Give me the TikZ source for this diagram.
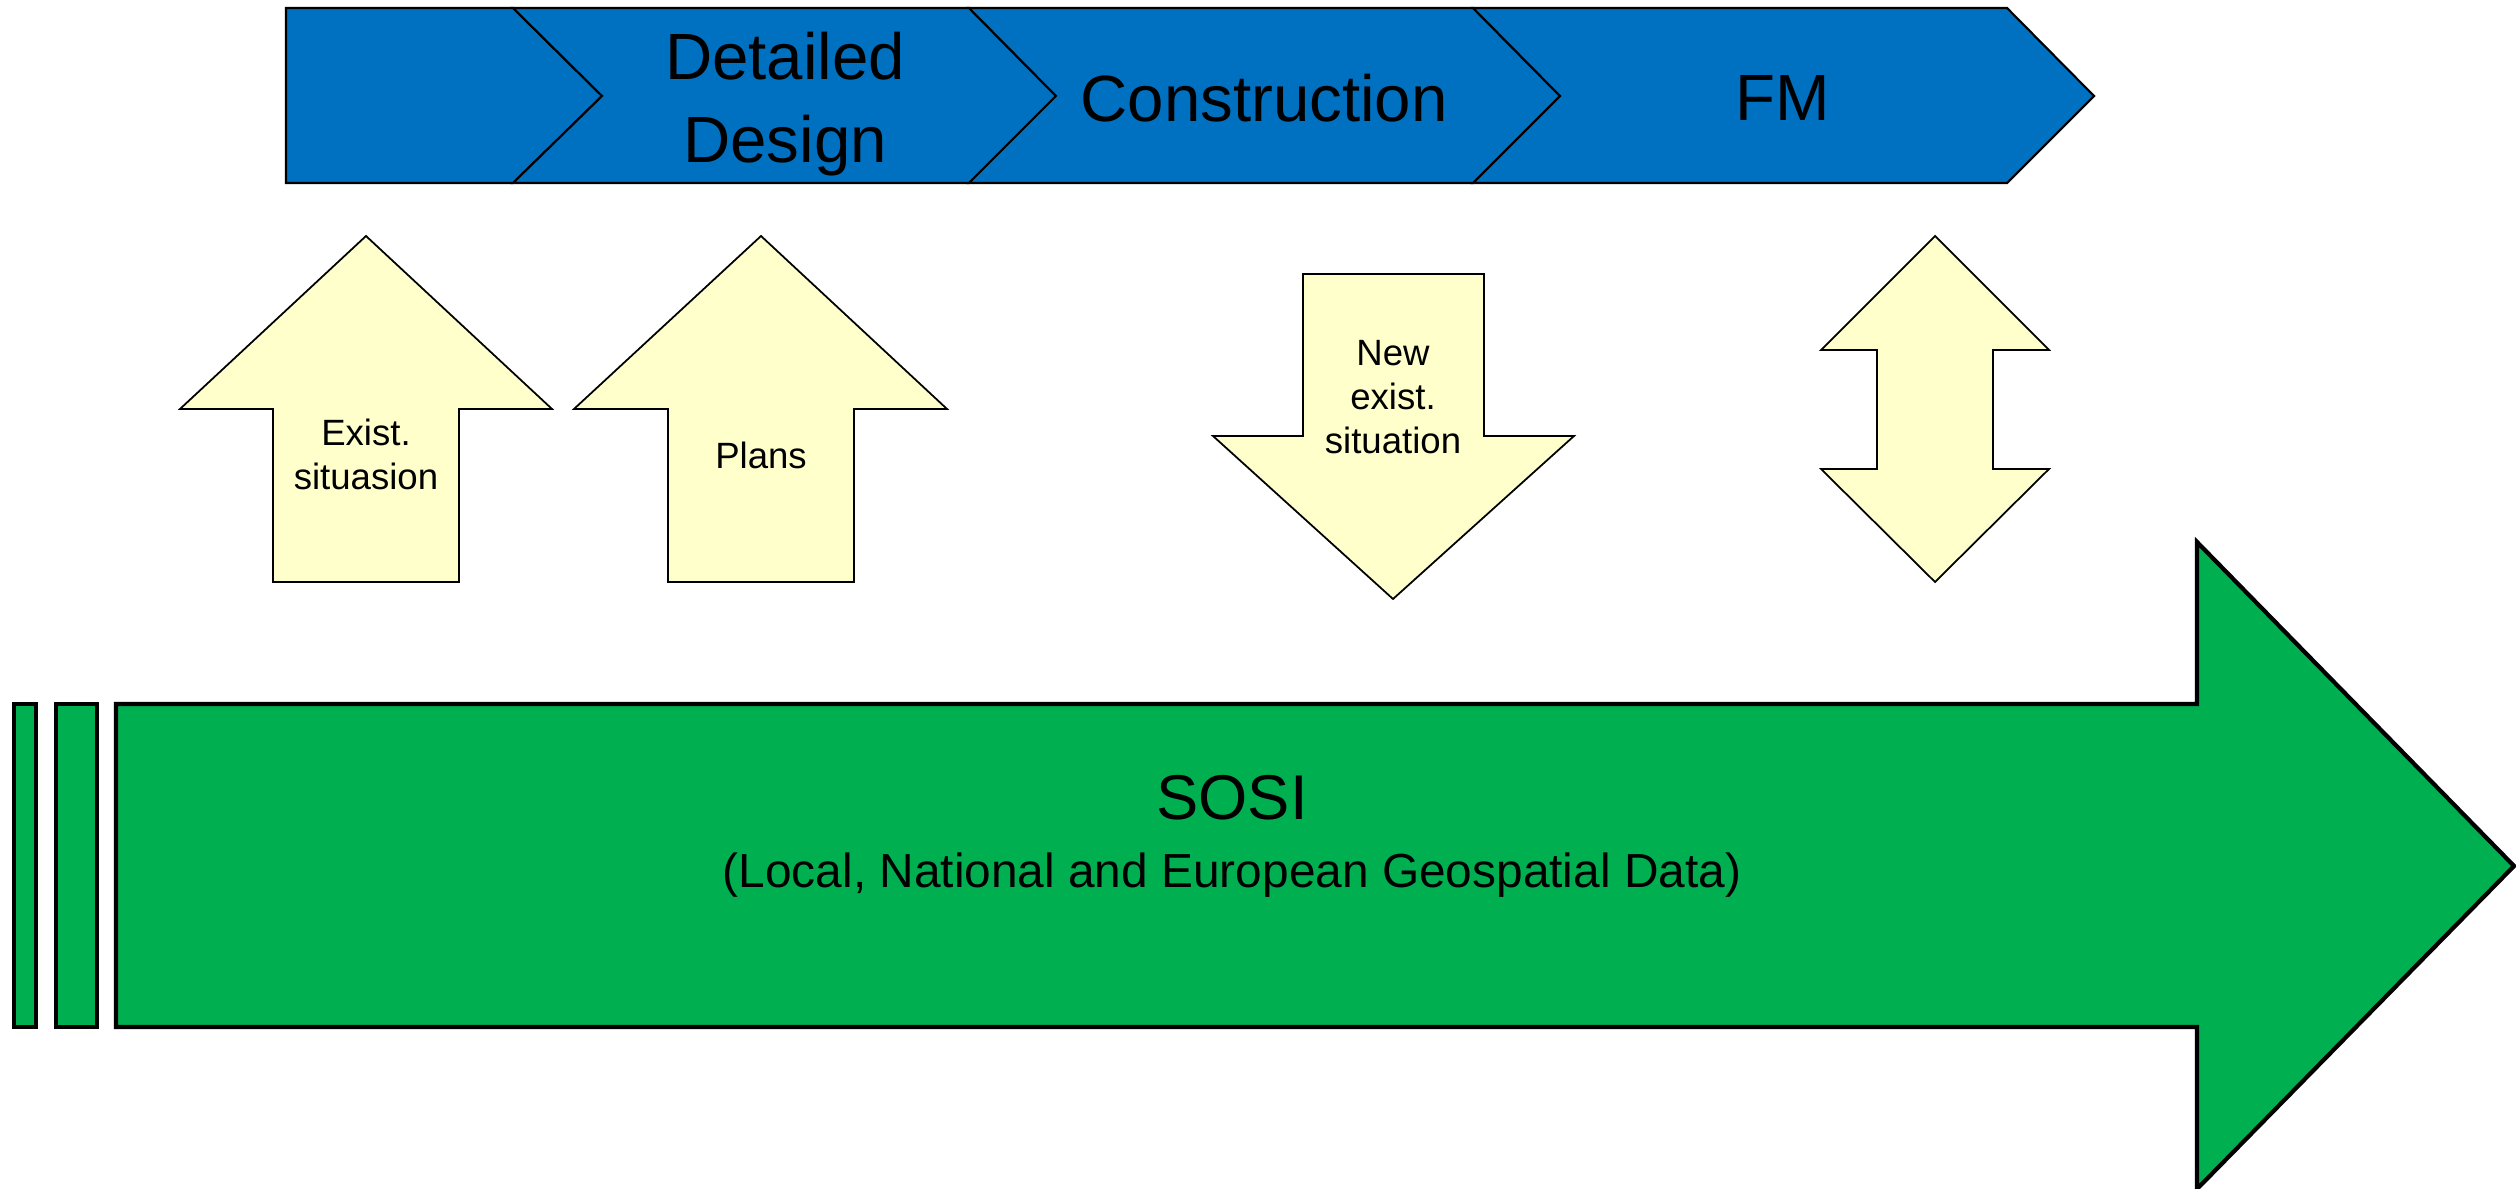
\documentclass[tikz,border=0pt]{standalone}
\usepackage{fontspec}
\setmainfont{Liberation Sans}
\definecolor{stageblue}{RGB}{0,112,192}
\definecolor{sosigreen}{RGB}{0,176,80}
\definecolor{notefill}{RGB}{255,255,204}
\tikzset{
  stage/.style={fill=stageblue, draw=black, line width=0.6pt},
  flow/.style={fill=notefill, draw=black, line width=0.5pt},
  sosibar/.style={fill=sosigreen, draw=black, line width=1.2pt},
  bigtext/.style={font=\fontsize{18.6}{23.4}\selectfont, align=center},
  smalltext/.style={font=\fontsize{10.4}{12.5}\selectfont, align=center}
}

\begin{document}
\begin{tikzpicture}[x=0.01cm, y=-0.01cm]
\useasboundingbox (0,0) rectangle (2516,1189);
% phases
\draw[stage] (286,8) -- (513,8) -- (602,96) -- (513,183) -- (286,183) -- cycle;
\draw[stage] (513,8) -- (969,8) -- (1056,96) -- (969,183) -- (513,183) -- (602,96) -- cycle;
\draw[stage] (969,8) -- (1473,8) -- (1560,96) -- (1473,183) -- (969,183) -- (1056,96) -- cycle;
\draw[stage] (1473,8) -- (2007,8) -- (2094,96) -- (2007,183) -- (1473,183) -- (1560,96) -- cycle;
\node[bigtext] (detailed) at (785,104) {Detailed\\Design};
\node[bigtext] (construction) at (1264,98) {Construction};
\node[bigtext] (fm) at (1783,98) {FM};

% data flows
\draw[flow] (366,236) -- (552,409) -- (459,409) -- (459,582) -- (273,582) -- (273,409) -- (180,409) -- cycle;
\draw[flow] (761,236) -- (947,409) -- (854,409) -- (854,582) -- (668,582) -- (668,409) -- (574,409) -- cycle;
\draw[flow] (1303,274) -- (1484,274) -- (1484,436) -- (1574,436) -- (1393,599) -- (1213,436) -- (1303,436) -- cycle;
\draw[flow] (1935,236) -- (2049,350) -- (1993,350) -- (1993,469) -- (2049,469) -- (1935,582)
  -- (1821,469) -- (1877,469) -- (1877,350) -- (1821,350) -- cycle;
\node[smalltext] (exist) at (366,454) {Exist.\\situasion};
\node[smalltext] (plans) at (761,455) {Plans};
\node[smalltext] (newexist) at (1393,397) {New\\exist.\\situation};

% SOSI
\draw[sosibar] (14,704) rectangle (36,1027);
\draw[sosibar] (56,704) rectangle (97,1027);
\draw[sosibar] (116,704) -- (2197,704) -- (2197,542) -- (2514,866) -- (2197,1189) -- (2197,1027) -- (116,1027) -- cycle;
\node[font=\fontsize{18}{22}\selectfont, anchor=base] (sosi) at (1232,820) {SOSI};
\node[font=\fontsize{13.6}{16}\selectfont, anchor=base] (sosisub) at (1232,887) {(Local, National and European Geospatial Data)};
\end{tikzpicture}
\end{document}
